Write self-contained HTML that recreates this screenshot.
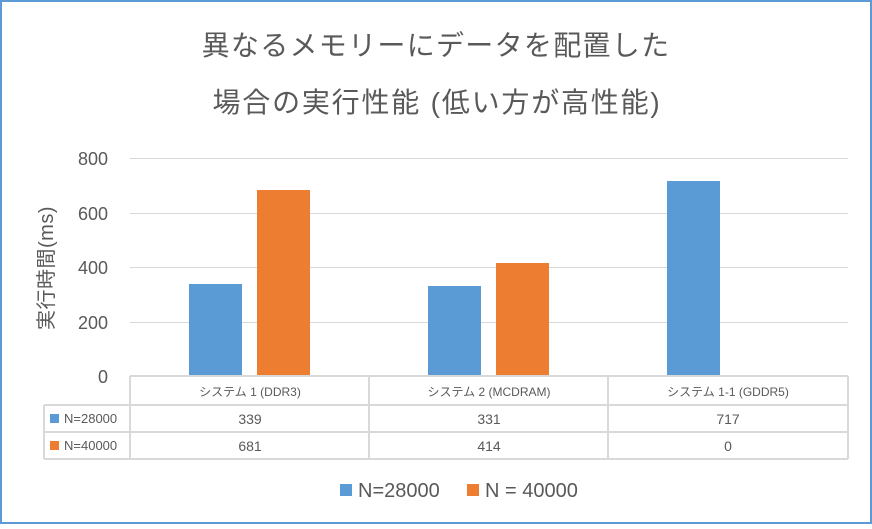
<!DOCTYPE html>
<html><head><meta charset="utf-8"><style>
body{margin:0;background:#fff}
svg text{font-family:"Liberation Sans","Noto Sans CJK JP",sans-serif;fill:#595959}
</style></head><body>
<svg width="872" height="524" xmlns="http://www.w3.org/2000/svg">
<rect x="1" y="1" width="870" height="522" fill="#fff" stroke="#5b9bd5" stroke-width="2"/>
<text x="436" y="55" font-size="28" text-anchor="middle" letter-spacing="1.3">異なるメモリーにデータを配置した</text>
<text x="437" y="112" font-size="28" text-anchor="middle" letter-spacing="1.8">場合の実行性能 (低い方が高性能)</text>
<g stroke="#d9d9d9" stroke-width="1">
<line x1="130" y1="158.5" x2="848" y2="158.5"/>
<line x1="130" y1="213.5" x2="848" y2="213.5"/>
<line x1="130" y1="267.5" x2="848" y2="267.5"/>
<line x1="130" y1="322.5" x2="848" y2="322.5"/>
</g>
<g font-size="18" text-anchor="end">
<text x="108" y="165">800</text><text x="108" y="220">600</text>
<text x="108" y="274">400</text><text x="108" y="329">200</text>
<text x="108" y="383">0</text>
</g>
<text transform="translate(53,268) rotate(-90)" font-size="20" text-anchor="middle" letter-spacing="0.5">実行時間(ms)</text>
<g fill="#5b9bd5">
<rect x="189" y="284" width="53" height="92"/>
<rect x="428" y="286" width="53" height="90"/>
<rect x="667" y="181" width="53" height="195"/>
</g>
<g fill="#ed7d31">
<rect x="257" y="190" width="53" height="186"/>
<rect x="496" y="263" width="53" height="113"/>
</g>
<g stroke="#d9d9d9" stroke-width="2" fill="none">
<line x1="130" y1="376" x2="848" y2="376"/>
<line x1="44" y1="405" x2="848" y2="405"/>
<line x1="44" y1="432" x2="848" y2="432"/>
<line x1="44" y1="459" x2="848" y2="459"/>
<line x1="44" y1="405" x2="44" y2="459"/>
<line x1="130" y1="376" x2="130" y2="459"/>
<line x1="369" y1="376" x2="369" y2="459"/>
<line x1="608" y1="376" x2="608" y2="459"/>
<line x1="848" y1="376" x2="848" y2="459"/>
</g>
<g font-size="12" text-anchor="middle">
<text x="250" y="396">システム 1 (DDR3)</text>
<text x="489" y="396">システム 2 (MCDRAM)</text>
<text x="728" y="396">システム 1-1 (GDDR5)</text>
</g>
<g font-size="14" text-anchor="middle">
<text x="250" y="424">339</text><text x="489" y="424">331</text><text x="728" y="424">717</text>
<text x="250" y="451">681</text><text x="489" y="451">414</text><text x="728" y="451">0</text>
</g>
<rect x="50" y="414" width="9" height="9" fill="#5b9bd5"/>
<text x="64" y="423" font-size="13">N=28000</text>
<rect x="50" y="441" width="9" height="9" fill="#ed7d31"/>
<text x="64" y="450" font-size="13">N=40000</text>
<rect x="340" y="484" width="12" height="12" fill="#5b9bd5"/>
<text x="358" y="497" font-size="20">N=28000</text>
<rect x="467" y="484" width="12" height="12" fill="#ed7d31"/>
<text x="485" y="497" font-size="20">N = 40000</text>
</svg>
</body></html>
